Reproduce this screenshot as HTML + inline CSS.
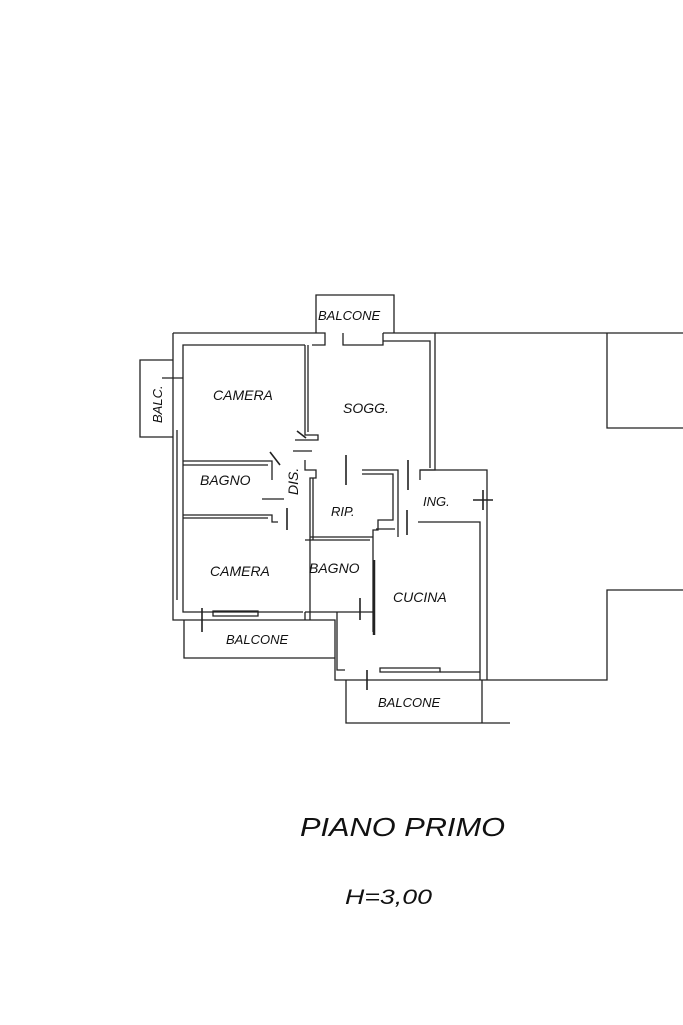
<!DOCTYPE html>
<html><head><meta charset="utf-8"><style>
html,body{margin:0;padding:0;background:#fff;width:683px;height:1025px;overflow:hidden}
svg{display:block}
text{font-family:"Liberation Sans",sans-serif;font-style:italic;fill:#111}
</style></head><body>
<svg width="683" height="1025" viewBox="0 0 683 1025" xmlns="http://www.w3.org/2000/svg">
<g fill="none" stroke="#222" stroke-width="1.3">
<path d="M316 333 V295 H394 V333"/>
<path d="M173 333 H325 V345 H312"/>
<path d="M183 356 V345 H305"/>
<path d="M343 333 V345 H383 V333"/>
<path d="M383 333 H435 V470 H420 V480"/>
<path d="M383 341 H430 V468"/>
<path d="M173 333 V620 H185"/>
<path d="M183 356 V612 H192"/>
<path d="M177 430 V600"/>
<path d="M173 360 H140 V437 H173"/>
<path d="M162 378 H183"/>
<path d="M305 345 V435 H318 V440 H295"/>
<path d="M308 345 V432"/>
<path d="M293 451 H312"/>
<path d="M305 460 V470 H316 V478 H310 V612"/>
<path d="M313 478 V540"/>
<path d="M183 461 H272 V480"/>
<path d="M183 465 H268"/>
<path d="M183 515 H272 V522 H278"/>
<path d="M183 518 H268"/>
<path d="M262 499 H284"/>
<path d="M362 470 H398 V537"/>
<path d="M362 474 H393 V520 H378 V530 H373 V632"/>
<path d="M310 537 H373"/>
<path d="M305 540 H370"/>
<path d="M305 612 H373"/>
<path d="M420 470 H487 V680"/>
<path d="M418 522 H480 V680"/>
<path d="M376 529 H395"/>
<path d="M185 620 H335 V680 H487"/>
<path d="M192 612 H303"/>
<path d="M213 611 H258 V616 H213 Z"/>
<path d="M305 612 V620 M310 612 V620"/>
<path d="M337 612 V670 H345"/>
<path d="M380 668 H440 V672 H380 Z"/>
<path d="M440 672 H480"/>
<path d="M184 620 V658 H335"/>
<path d="M346 680 V723 H510"/>
<path d="M482 680 V723"/>
<path d="M435 333 H683"/>
<path d="M607 333 V428 H683"/>
<path d="M487 680 H607 V590 H683"/>
</g>
<g stroke="#222" stroke-width="1.6">
<line x1="346" y1="455" x2="346" y2="485"/>
<line x1="408" y1="460" x2="408" y2="490"/>
<line x1="287" y1="508" x2="287" y2="530"/>
<line x1="407" y1="510" x2="407" y2="535"/>
<line x1="374" y1="560" x2="374" y2="635" stroke-width="2.5"/>
<line x1="202" y1="608" x2="202" y2="632"/>
<line x1="360" y1="598" x2="360" y2="620"/>
<line x1="367" y1="670" x2="367" y2="690"/>
<line x1="270" y1="452" x2="280" y2="465"/>
<line x1="473" y1="500" x2="493" y2="500"/>
<line x1="483" y1="490" x2="483" y2="510"/>
<line x1="297" y1="431" x2="306" y2="438"/>
</g>
<g font-size="14">
<text x="318" y="320" font-size="13">BALCONE</text>
<text x="213" y="400">CAMERA</text>
<text x="343" y="413">SOGG.</text>
<text x="200" y="485">BAGNO</text>
<text x="331" y="516" font-size="13">RIP.</text>
<text x="423" y="506" font-size="13">ING.</text>
<text x="210" y="576">CAMERA</text>
<text x="309" y="573">BAGNO</text>
<text x="393" y="602">CUCINA</text>
<text x="226" y="644" font-size="13">BALCONE</text>
<text x="378" y="707" font-size="13">BALCONE</text>
<text transform="translate(162,423) rotate(-90)" font-size="13">BALC.</text>
<text transform="translate(298,495) rotate(-90)" font-size="14">DIS.</text>
<text x="300" y="836" font-size="26" textLength="205" lengthAdjust="spacingAndGlyphs">PIANO PRIMO</text>
<text x="345" y="904" font-size="21" textLength="87" lengthAdjust="spacingAndGlyphs">H=3,00</text>
</g>
</svg>
</body></html>
